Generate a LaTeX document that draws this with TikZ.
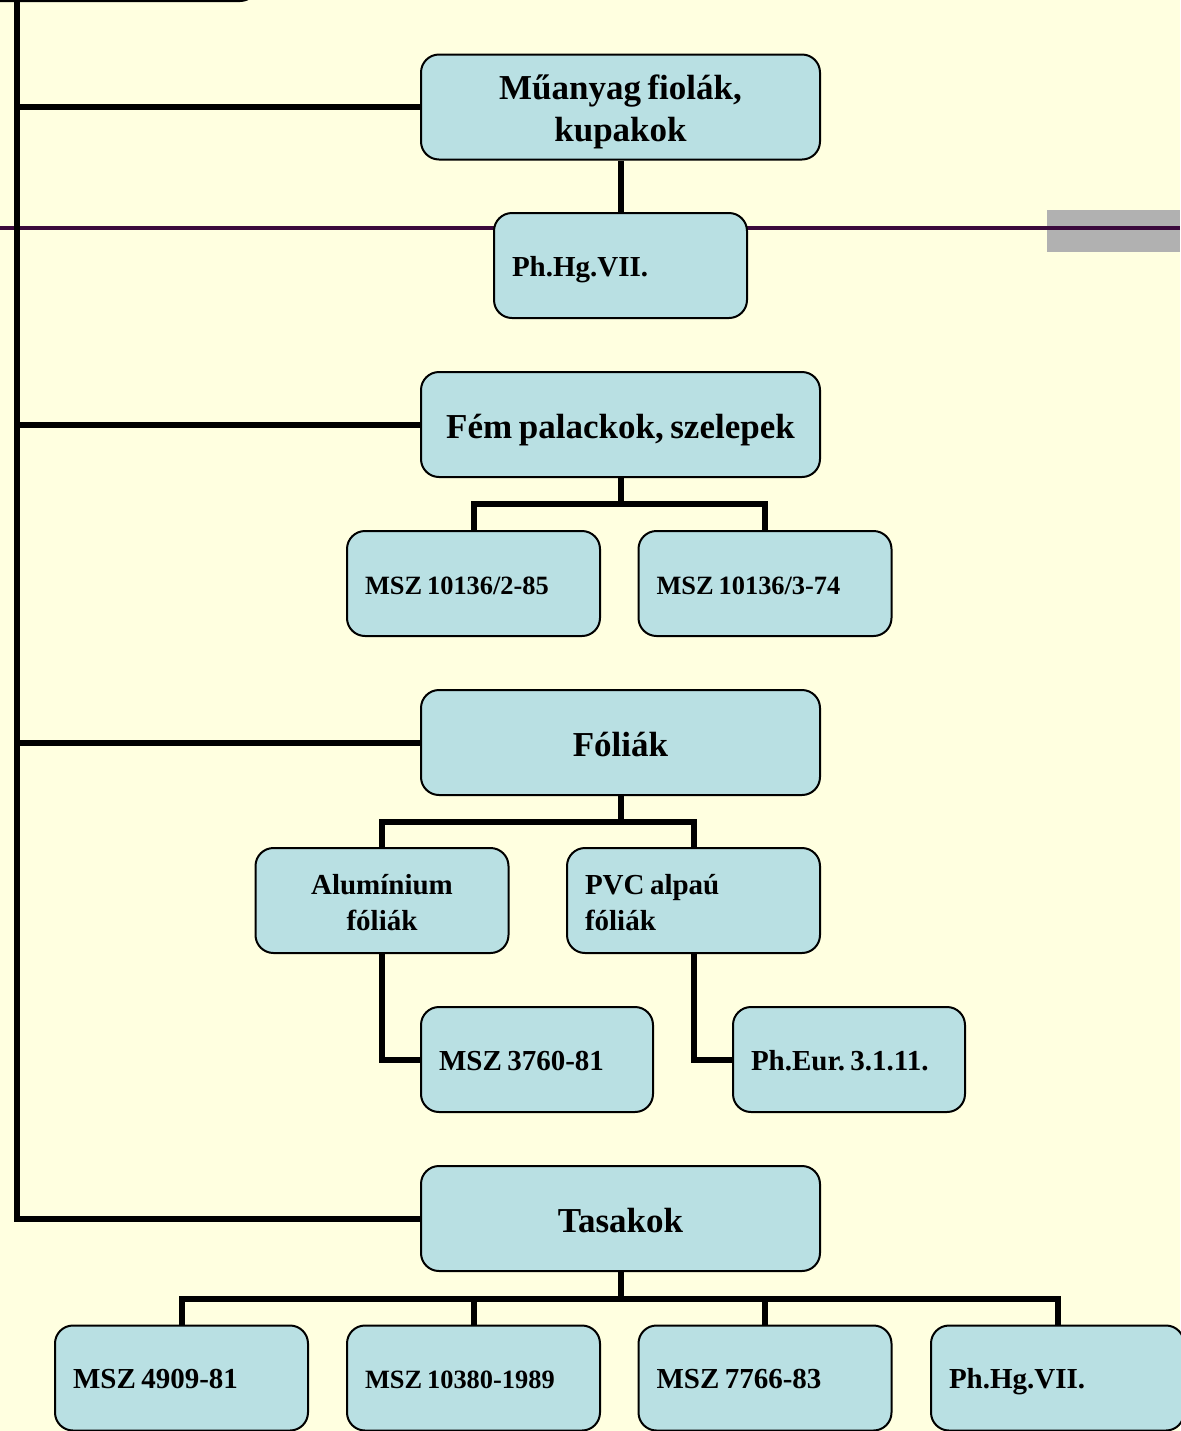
\documentclass[tikz,border=0pt]{standalone}
\usepackage{fontspec}
\setmainfont{Liberation Serif}[WordSpace=0.75]
\frenchspacing
\pgfdeclarelayer{back}
\pgfdeclarelayer{lines}
\pgfsetlayers{back,lines,main}
\definecolor{bgyellow}{HTML}{FFFFE0}
\definecolor{boxblue}{HTML}{B9E0E3}
\definecolor{purpleline}{HTML}{3B0A3D}
\definecolor{greybar}{HTML}{B1B1B1}
\tikzset{
  box/.style={draw=black, line width=1pt, fill=boxblue, rounded corners=9pt,
    minimum height=52.5pt, inner sep=0pt, font=\bfseries},
  bigbox/.style={box, minimum width=199.5pt, align=center, text height=16pt, text depth=2.5pt,
    font=\bfseries\fontsize{17.5}{21}\selectfont},
  bigtwo/.style={bigbox, text height=36pt, text depth=2pt},
  leafbox/.style={box, text width=108.5pt, minimum width=126.5pt, inner xsep=9pt, align=flush left,
    text height=12pt, text depth=1.5pt, font=\bfseries\fontsize{14.5}{18}\selectfont},
  leaftwo/.style={leafbox, text height=12pt, text depth=18.5pt},
  smallleaf/.style={leafbox, font=\bfseries\fontsize{13.2}{16}\selectfont},
  narrowleaf/.style={leafbox, text width=98pt, minimum width=116pt},
  conn/.style={line width=3pt, draw=black},
}
\begin{document}
\begin{tikzpicture}[x=0.5pt, y=-0.5pt]
\useasboundingbox (0,0) rectangle (1180,1431);
\begin{pgfonlayer}{back}
  \fill[bgyellow] (0,0) rectangle (1180,1431);
  \fill[greybar] (1047,210) rectangle (1180,252);
  \draw[purpleline, line width=2.3pt] (0,228) -- (1180,228);
\end{pgfonlayer}

% partial box at top
\node[box, minimum width=300pt, minimum height=60pt] (topbox) at (-42,-59) {};

\node[bigtwo] (mu) at (620.5,107) {Műanyag fiolák,\\kupakok};
\node[leafbox] (ph1) at (620.5,265.5) {Ph.Hg.VII.};

\node[bigbox] (fem) at (620.5,424.5) {Fém palackok, szelepek};
\node[smallleaf] (m1) at (473.5,583.5) {MSZ 10136/2-85};
\node[smallleaf] (m2) at (765,583.5) {MSZ 10136/3-74};

\node[bigbox] (fol) at (620.5,742.5) {Fóliák};
\node[leaftwo, align=flush center] (alu) at (382,900.5) {Alumínium\\fóliák};
\node[leaftwo] (pvc) at (693.5,900.5) {PVC alpaú\\fóliák};
\node[narrowleaf] (m37) at (537,1059.5) {MSZ 3760-81};
\node[narrowleaf] (eur) at (849,1059.5) {Ph.Eur. 3.1.11.};

\node[bigbox] (tas) at (620.5,1218.5) {Tasakok};
\node[leafbox] (t1) at (181.5,1378) {MSZ 4909-81};
\node[smallleaf] (t2) at (473.5,1378) {MSZ 10380-1989};
\node[leafbox] (t3) at (765,1378) {MSZ 7766-83};
\node[leafbox] (t4) at (1057.5,1378) {Ph.Hg.VII.};

\coordinate (trunk) at (17,-5);

\begin{pgfonlayer}{lines}
  \draw[conn] (trunk) |- (tas.west);
  \draw[conn] (trunk |- mu.west) -- (mu.west);
  \draw[conn] (trunk |- fem.west) -- (fem.west);
  \draw[conn] (trunk |- fol.west) -- (fol.west);
  \draw[conn] (mu.south) -- (ph1.north);
  \draw[conn] (fem.south) -- ++(0,26) -| (m1.north);
  \draw[conn] (fem.south) -- ++(0,26) -| (m2.north);
  \draw[conn] (fol.south) -- ++(0,26) -| (alu.north);
  \draw[conn] (fol.south) -- ++(0,26) -| (pvc.north);
  \draw[conn] (alu.south) |- (m37.west);
  \draw[conn] (pvc.south) |- (eur.west);
  \draw[conn] (tas.south) -- ++(0,27) -| (t1.north);
  \draw[conn] (tas.south) -- ++(0,27) -| (t2.north);
  \draw[conn] (tas.south) -- ++(0,27) -| (t3.north);
  \draw[conn] (tas.south) -- ++(0,27) -| (t4.north);
\end{pgfonlayer}
\end{tikzpicture}
\end{document}
